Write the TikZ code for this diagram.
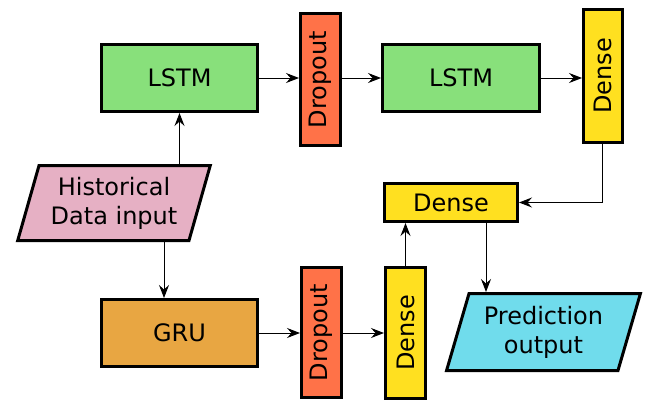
\documentclass[tikz,border=0pt]{standalone}
\usepackage{fontspec}
\setmainfont{DejaVu Sans}
\usetikzlibrary{arrows.meta,shapes.geometric}
\definecolor{lstmgreen}{RGB}{136,224,123}
\definecolor{dropred}{RGB}{255,114,72}
\definecolor{denseyellow}{RGB}{255,224,32}
\definecolor{histpink}{RGB}{230,176,196}
\definecolor{gruorange}{RGB}{232,166,66}
\definecolor{predcyan}{RGB}{112,220,236}
\begin{document}
\begin{tikzpicture}[x=1pt,y=-1pt,
  every node/.style={font=\fontsize{24}{29}\selectfont, text=black},
  block/.style={draw=black, line width=3pt, rectangle, inner sep=0pt, align=center},
  wide/.style={block, minimum width=156pt, minimum height=67pt},
  tall/.style={block, minimum width=40pt, minimum height=131pt},
  datashape/.style={draw=black, line width=3pt, trapezium, trapezium left angle=71,
    trapezium right angle=109, trapezium stretches=true, inner sep=0pt, align=center},
  flow/.style={line width=1pt, -{Stealth[length=13pt,width=10pt,inset=4.5pt]}}
]
\useasboundingbox (0,0) rectangle (650,402);

% upper branch
\node[wide, fill=lstmgreen] (lstmA) at (179.5,78) {LSTM};
\node[tall, fill=dropred, minimum height=132pt] (dropA) at (320.5,79.5) {\rotatebox{90}{Dropout}};
\node[wide, fill=lstmgreen, minimum width=157pt] (lstmB) at (461,78) {LSTM};
\node[tall, fill=denseyellow, minimum width=39pt, minimum height=133pt] (denseA) at (603,76) {\rotatebox{90}{Dense}};

% merge layer
\node[block, fill=denseyellow, minimum width=133pt, minimum height=38pt] (denseB) at (451,202.5) {Dense};

% input
\node[datashape, fill=histpink, minimum width=193pt, minimum height=75pt] (hist) at (114,203) {Historical\\Data input};

% lower branch
\node[wide, fill=gruorange] (gru) at (179.5,333) {GRU};
\node[tall, fill=dropred, minimum height=130pt] (dropB) at (321.5,332.5) {\rotatebox{90}{Dropout}};
\node[tall, fill=denseyellow] (denseC) at (405.5,333) {\rotatebox{90}{Dense}};

% output
\node[datashape, fill=predcyan, minimum width=194pt, minimum height=77pt] (pred) at (543.5,332) {Prediction\\output};

% connectors
\draw[flow] (lstmA.south |- hist.north) -- (lstmA.south);
\draw[flow] ([xshift=50pt]hist.south) -- ([xshift=50pt]hist.south |- gru.north);
\draw[flow] (lstmA.east) -- (lstmA.east -| dropA.west);
\draw[flow] (lstmB.west -| dropA.east) -- (lstmB.west);
\draw[flow] (lstmB.east) -- (lstmB.east -| denseA.west);
\draw[flow] ([xshift=-1pt]denseA.south) |- (denseB.east);
\draw[flow] (gru.east) -- (gru.east -| dropB.west);
\draw[flow] (dropB.east |- denseC.west) -- (denseC.west);
\draw[flow] (denseC.north) -- (denseC.north |- denseB.south);
\draw[flow] ([xshift=35pt]denseB.south) -- ([xshift=35pt]denseB.south |- pred.north);
\end{tikzpicture}
\end{document}
